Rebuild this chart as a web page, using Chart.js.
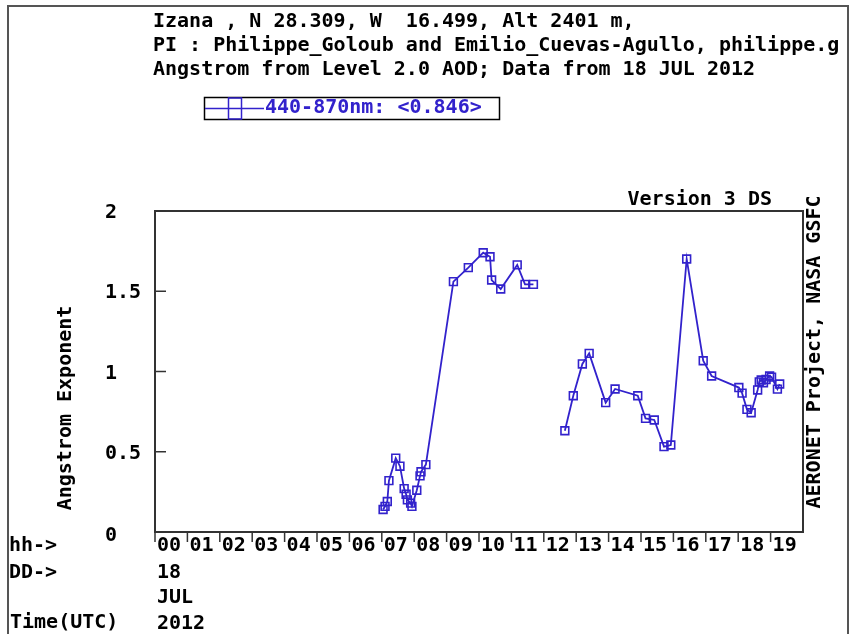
<!DOCTYPE html>
<html>
<head>
<meta charset="utf-8">
<script src="https://cdn.jsdelivr.net/npm/chart.js@4.4.0/dist/chart.umd.min.js"></script>
<style>
  html, body { margin: 0; padding: 0; background: #ffffff; }
  #wrap { width: 852px; height: 634px; position: relative; }
</style>
</head>
<body>
<div id="wrap"><canvas id="c" width="852" height="634"></canvas></div>
<script>
// ---- data (hours UTC, 18 JUL 2012) ----
const hours = [
  7.04, 7.10, 7.17, 7.22, 7.43, 7.56, 7.69, 7.75, 7.79, 7.89, 7.93,
  8.08, 8.18, 8.21, 8.36,
  9.21, 9.67, 10.13, 10.34, 10.39, 10.67, 11.18, 11.42, 11.68,
  12.0,
  12.65, 12.91, 13.19, 13.40, 13.91, 14.20, 14.90, 15.14, 15.41, 15.71, 15.92,
  16.41, 16.92, 17.18, 18.02, 18.12, 18.27, 18.40,
  18.60, 18.65, 18.71, 18.78, 18.86, 18.97, 19.03, 19.21, 19.28
];
const angstrom = [
  0.14, 0.16, 0.19, 0.32, 0.46, 0.41, 0.27, 0.235, 0.20, 0.18, 0.16,
  0.26, 0.35, 0.375, 0.42,
  1.56, 1.647, 1.74, 1.715, 1.57, 1.514, 1.664, 1.543, 1.543,
  null,
  0.631, 0.849, 1.047, 1.113, 0.806, 0.891, 0.849, 0.708, 0.698, 0.532, 0.542,
  1.701, 1.067, 0.972, 0.90, 0.865, 0.764, 0.743,
  0.885, 0.935, 0.947, 0.93, 0.95, 0.972, 0.965, 0.89, 0.922
];
const hourTickLabels = ['00','01','02','03','04','05','06','07','08','09',
                        '10','11','12','13','14','15','16','17','18','19'];
const yTickValues = [0, 0.5, 1, 1.5, 2];
const yTickLabels = ['0', '0.5', '1', '1.5', '2'];
const headerLines = [
  'Izana , N 28.309, W  16.499, Alt 2401 m,',
  'PI : Philippe_Goloub and Emilio_Cuevas-Agullo, philippe.g',
  'Angstrom from Level 2.0 AOD; Data from 18 JUL 2012'
];
const seriesLabel = '440-870nm: <0.846>';
const yTitle = 'Angstrom Exponent';
const sideText = 'AERONET Project, NASA GSFC';
const versionText = 'Version 3 DS';
const dayLabel = '18';
const monthLabel = 'JUL';
const yearLabel = '2012';

const BLUE = '#3222cc';
const FONT = 'bold 20px "DejaVu Sans Mono"';

const points = hours.map((h, i) => ({ x: h, y: angstrom[i] }));

const decor = {
  id: 'decor',
  beforeDraw(chart) {
    const ctx = chart.ctx;
    ctx.save();
    ctx.fillStyle = '#ffffff';
    ctx.fillRect(0, 0, chart.width, chart.height);
    ctx.restore();
  },
  afterDraw(chart) {
    const { ctx, chartArea: a, scales: { x, y } } = chart;
    ctx.save();
    // outer frame
    ctx.strokeStyle = '#555555';
    ctx.lineWidth = 2;
    ctx.strokeRect(8, 6, 840, 700);
    ctx.beginPath();
    ctx.rect(9, 7, 838, 700);
    ctx.clip();

    ctx.fillStyle = '#000000';
    ctx.font = FONT;
    ctx.textAlign = 'left';
    ctx.textBaseline = 'alphabetic';
    headerLines.forEach((t, i) => ctx.fillText(t, 153, 27 + i * 24));

    // legend box
    ctx.strokeStyle = '#000000';
    ctx.lineWidth = 1.5;
    ctx.strokeRect(204.5, 97.5, 295, 22);
    ctx.strokeStyle = BLUE;
    ctx.lineWidth = 1.5;
    ctx.beginPath();
    ctx.moveTo(205, 108.5); ctx.lineTo(264, 108.5);
    ctx.stroke();
    ctx.strokeRect(228.5, 98, 13, 21);
    ctx.fillStyle = BLUE;
    ctx.textBaseline = 'middle';
    ctx.fillText(seriesLabel, 265, 108);

    // plot border
    ctx.strokeStyle = '#333333';
    ctx.lineWidth = 2;
    ctx.strokeRect(a.left, a.top, a.right - a.left, a.bottom - a.top);

    // y ticks and labels
    ctx.fillStyle = '#000000';
    ctx.lineWidth = 1.5;
    yTickValues.forEach((v, i) => {
      const py = y.getPixelForValue(v);
      ctx.beginPath();
      ctx.moveTo(a.left, py); ctx.lineTo(a.left + 11, py);
      ctx.stroke();
      ctx.fillText(yTickLabels[i], 105, py + (v === 0 ? 4 : 2));
    });

    // x ticks and labels
    hourTickLabels.forEach((t, i) => {
      const px = x.getPixelForValue(i);
      ctx.beginPath();
      ctx.moveTo(px, a.bottom); ctx.lineTo(px, a.bottom + 10);
      ctx.stroke();
      ctx.fillText(t, px + 2, 546);
    });

    // bottom labels
    ctx.fillText('hh->', 9, 546);
    ctx.fillText('DD->', 9, 573);
    ctx.fillText(dayLabel, 157, 573);
    ctx.fillText(monthLabel, 157, 598);
    ctx.fillText('Time(UTC)', 10, 623);
    ctx.fillText(yearLabel, 157, 624);

    // version text
    ctx.textAlign = 'right';
    ctx.fillText(versionText, 772, 200);

    // y title
    ctx.save();
    ctx.translate(66, 408);
    ctx.rotate(-Math.PI / 2);
    ctx.textAlign = 'center';
    ctx.fillText(yTitle, 0, 0);
    ctx.restore();

    // side text (reads bottom to top)
    ctx.save();
    ctx.translate(815, 352);
    ctx.rotate(-Math.PI / 2);
    ctx.textAlign = 'center';
    ctx.fillText(sideText, 0, 0);
    ctx.restore();

    ctx.restore();
  }
};

new Chart(document.getElementById('c'), {
  type: 'line',
  data: {
    datasets: [{
      label: seriesLabel,
      data: points,
      borderColor: BLUE,
      backgroundColor: 'rgba(0,0,0,0)',
      borderWidth: 1.8,
      pointStyle: 'rect',
      pointRadius: 5.5,
      pointBorderWidth: 1.6,
      pointBorderColor: BLUE,
      pointBackgroundColor: 'rgba(0,0,0,0)',
      tension: 0,
      spanGaps: false,
      fill: false
    }]
  },
  options: {
    responsive: false,
    animation: false,
    devicePixelRatio: 1,
    layout: { padding: { left: 155, top: 211, right: 49, bottom: 102 } },
    plugins: { legend: { display: false }, title: { display: false }, tooltip: { enabled: false } },
    scales: {
      x: { type: 'linear', min: 0, max: 20, display: false },
      y: { type: 'linear', min: 0, max: 2, display: false }
    }
  },
  plugins: [decor]
});
</script>
</body>
</html>
